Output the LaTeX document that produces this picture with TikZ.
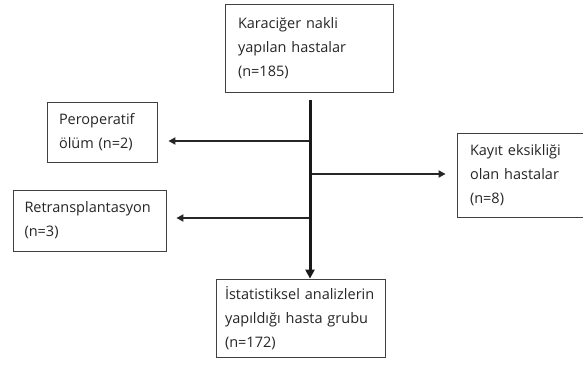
\documentclass[tikz,border=0pt]{standalone}
\usepackage{fontspec}
\setmainfont{Open Sans}
\usetikzlibrary{arrows.meta,positioning}

\begin{document}
\begin{tikzpicture}[
    x=1pt, y=1pt,
    flowbox/.style={rectangle, draw=black!75, fill=white, line width=0.8pt, inner sep=0pt, align=left, font=\fontsize{14.5}{24}\selectfont, text=black!85},
    branch/.style={-{Triangle[length=7pt, width=7pt]}, line width=2.2pt, draw=black!85},
    trunk/.style={-{Triangle[length=9pt, width=9pt]}, line width=3pt, draw=black!90}
]
\useasboundingbox (0,0) rectangle (583,-367);

% === Boxes ===
\node[flowbox, minimum width=168pt, minimum height=88pt, text width=142pt] (donors) at (309,-48) {Karaciğer nakli\\yapılan hastalar\\(n=185)};
\node[flowbox, minimum width=110pt, minimum height=60pt, text width=86pt] (periop) at (102,-132) {Peroperatif\\ölüm (n=2)};
\node[flowbox, minimum width=153pt, minimum height=61pt, text width=130pt] (retx) at (89.5,-220.5) {Retransplantasyon\\(n=3)};
\node[flowbox, minimum width=126pt, minimum height=84pt, text width=100pt] (missing) at (520,-175) {Kayıt eksikliği\\olan hastalar\\(n=8)};
\node[flowbox, minimum width=169pt, minimum height=78pt, text width=151pt] (final) at (300.5,-318) {İstatistiksel analizlerin\\yapıldığı hasta grubu\\(n=172)};

% === Trunk points ===
\coordinate (trunk-top) at (310,-100);
\coordinate (br-periop) at (310,-141);
\coordinate (br-missing) at (310,-174);
\coordinate (br-retx) at (310,-218);

% === Exclusion arrows ===
\draw[branch, shorten >=11pt] (br-periop) -- (br-periop -| periop.east);
\draw[branch, shorten >=11pt] (br-missing) -- (br-missing -| missing.west);
\draw[branch, shorten >=10pt] (br-retx) -- (br-retx -| retx.east);

% === Main flow ===
\draw[trunk] (trunk-top) -- (trunk-top |- final.north);

\end{tikzpicture}
\end{document}
